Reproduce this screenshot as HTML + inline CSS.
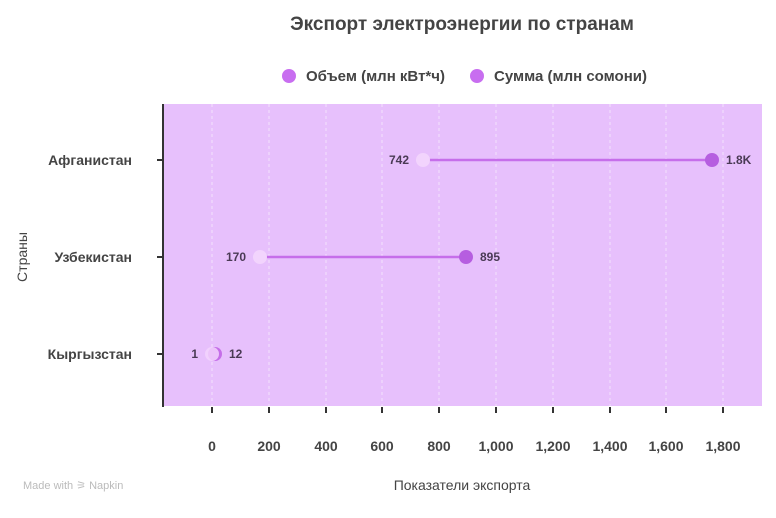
<!DOCTYPE html>
<html><head><meta charset="utf-8"><style>
body{margin:0;background:#fff;width:776px;height:513px;overflow:hidden}
</style></head><body>
<svg width="776" height="513" xmlns="http://www.w3.org/2000/svg" font-family="Liberation Sans, sans-serif">
<text x="462" y="30" text-anchor="middle" font-size="19" font-weight="bold" fill="#444">Экспорт электроэнергии по странам</text>
<circle cx="289" cy="76" r="7" fill="#c86ef0"/>
<text x="306" y="81" font-size="15" font-weight="bold" fill="#444">Объем (млн кВт*ч)</text>
<circle cx="477" cy="76" r="7" fill="#c86ef0"/>
<text x="494" y="81" font-size="15" font-weight="bold" fill="#444">Сумма (млн сомони)</text>
<rect x="163" y="104" width="599" height="302" fill="#e7c0fc"/>
<g stroke="#f3e2fd" stroke-width="1" stroke-dasharray="3,3">
<line x1="212" y1="104" x2="212" y2="406"/><line x1="269" y1="104" x2="269" y2="406"/><line x1="326" y1="104" x2="326" y2="406"/><line x1="382" y1="104" x2="382" y2="406"/><line x1="439" y1="104" x2="439" y2="406"/><line x1="496" y1="104" x2="496" y2="406"/><line x1="553" y1="104" x2="553" y2="406"/><line x1="610" y1="104" x2="610" y2="406"/><line x1="666" y1="104" x2="666" y2="406"/><line x1="723" y1="104" x2="723" y2="406"/>
</g>
<line x1="163" y1="104" x2="163" y2="407" stroke="#333" stroke-width="2"/>
<g stroke="#333" stroke-width="2">
<line x1="157" y1="160" x2="163" y2="160"/><line x1="157" y1="257" x2="163" y2="257"/><line x1="157" y1="354" x2="163" y2="354"/>
<line x1="212" y1="407" x2="212" y2="413"/><line x1="269" y1="407" x2="269" y2="413"/><line x1="326" y1="407" x2="326" y2="413"/><line x1="382" y1="407" x2="382" y2="413"/><line x1="439" y1="407" x2="439" y2="413"/><line x1="496" y1="407" x2="496" y2="413"/><line x1="553" y1="407" x2="553" y2="413"/><line x1="610" y1="407" x2="610" y2="413"/><line x1="666" y1="407" x2="666" y2="413"/><line x1="723" y1="407" x2="723" y2="413"/>
</g>
<g font-size="14" font-weight="bold" fill="#444" text-anchor="end">
<text x="132" y="165">Афганистан</text><text x="132" y="262">Узбекистан</text><text x="132" y="359">Кыргызстан</text>
</g>
<text transform="translate(27,257) rotate(-90)" text-anchor="middle" font-size="14" fill="#444">Страны</text>
<g font-size="14" font-weight="bold" fill="#444" text-anchor="middle">
<text x="212" y="451">0</text><text x="269" y="451">200</text><text x="326" y="451">400</text><text x="382" y="451">600</text><text x="439" y="451">800</text><text x="496" y="451">1,000</text><text x="553" y="451">1,200</text><text x="610" y="451">1,400</text><text x="666" y="451">1,600</text><text x="723" y="451">1,800</text>
</g>
<text x="462" y="490" text-anchor="middle" font-size="14" fill="#444">Показатели экспорта</text>
<text x="23" y="489" font-size="11" fill="#bbb">Made with ⚞ Napkin</text>
<g stroke="#c66eea" stroke-width="2.5">
<line x1="423" y1="160" x2="712" y2="160"/><line x1="260" y1="257" x2="466" y2="257"/><line x1="212" y1="354" x2="215" y2="354"/>
</g>
<circle cx="423" cy="160" r="7" fill="#f2d4fd"/><circle cx="712" cy="160" r="7" fill="#b65ee0"/>
<circle cx="260" cy="257" r="7" fill="#f2d4fd"/><circle cx="466" cy="257" r="7" fill="#b65ee0"/>
<circle cx="215" cy="354" r="7" fill="#c56ee8"/><circle cx="212" cy="354" r="7" fill="#f2d4fd" opacity="0.85"/>
<g font-size="12" font-weight="bold" fill="#4a3a55">
<text x="409" y="164" text-anchor="end">742</text><text x="726" y="164">1.8K</text>
<text x="246" y="261" text-anchor="end">170</text><text x="480" y="261">895</text>
<text x="198" y="358" text-anchor="end">1</text><text x="229" y="358">12</text>
</g>
</svg>
</body></html>
